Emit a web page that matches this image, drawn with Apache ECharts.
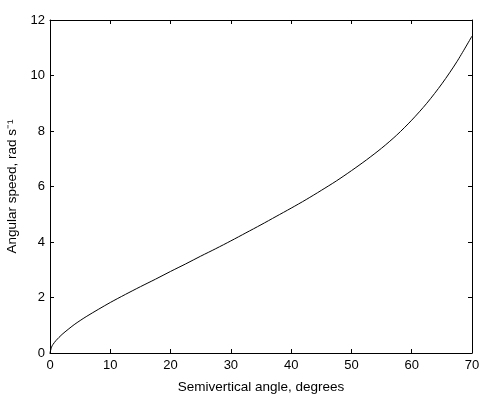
<!DOCTYPE html>
<html>
<head>
<meta charset="utf-8">
<script src="https://cdn.jsdelivr.net/npm/echarts@6/dist/echarts.min.js"></script>
<style>html,body{margin:0;padding:0;background:#fff}#c{width:498px;height:399px}</style>
</head>
<body>
<div id="c"></div>
<script>
const angles = [0, 0.25, 0.5, 1, 2, 3, 4, 5, 6, 8, 10, 12.5, 15, 17.5, 20, 22.5, 25, 27.5, 30, 32.5, 35, 37.5, 40, 42.5, 45, 47.5, 50, 52.5, 55, 57.5, 60, 62.5, 65, 67.5, 70];
const speeds = [0, 0.21, 0.31, 0.45, 0.67, 0.85, 1.02, 1.17, 1.31, 1.57, 1.82, 2.11, 2.39, 2.66, 2.94, 3.21, 3.49, 3.76, 4.04, 4.33, 4.62, 4.92, 5.22, 5.53, 5.86, 6.20, 6.57, 6.96, 7.38, 7.85, 8.39, 9.00, 9.70, 10.50, 11.42];
const xTicks = [0, 10, 20, 30, 40, 50, 60, 70];
const yTicks = [0, 2, 4, 6, 8, 10, 12];
const xTitle = 'Semivertical angle, degrees';
const yTitle = 'Angular speed, rad s\u207B\u00B9';

const font = 'Liberation Sans, Arial, sans-serif';
const chart = echarts.init(document.getElementById('c'));
const axisLine = {show: true, onZero: false, lineStyle: {color: '#000', width: 1}};
const tick = {show: true, inside: true, length: 4, lineStyle: {color: '#000'}};
const label = {color: '#000', fontSize: 13, fontFamily: font};
const titleStyle = {color: '#000', fontSize: 13.5, fontFamily: font};
chart.setOption({
  animation: false,
  grid: {left: 50, top: 20, right: 26, bottom: 46, containLabel: false, outerBoundsMode: 'none'},
  xAxis: [
    {type: 'value', min: 0, max: 70, interval: 10, position: 'bottom',
     axisLine, axisTick: tick, splitLine: {show: false},
     axisLabel: Object.assign({margin: 6}, label),
     name: xTitle, nameLocation: 'middle', nameGap: 27, nameTextStyle: titleStyle},
    {type: 'value', min: 0, max: 70, interval: 10, position: 'top',
     axisLine, axisTick: tick, splitLine: {show: false}, axisLabel: {show: false}}
  ],
  yAxis: [
    {type: 'value', min: 0, max: 12, interval: 2, position: 'left',
     axisLine, axisTick: tick, splitLine: {show: false},
     axisLabel: Object.assign({margin: 5}, label),
     name: yTitle, nameLocation: 'middle', nameGap: 26, nameTextStyle: titleStyle},
    {type: 'value', min: 0, max: 12, interval: 2, position: 'right',
     axisLine, axisTick: tick, splitLine: {show: false}, axisLabel: {show: false}}
  ],
  series: [{
    type: 'line', showSymbol: false, smooth: 0.3,
    data: angles.map((a, i) => [a, speeds[i]]),
    lineStyle: {color: '#000', width: 1}
  }]
});
</script>
</body>
</html>
